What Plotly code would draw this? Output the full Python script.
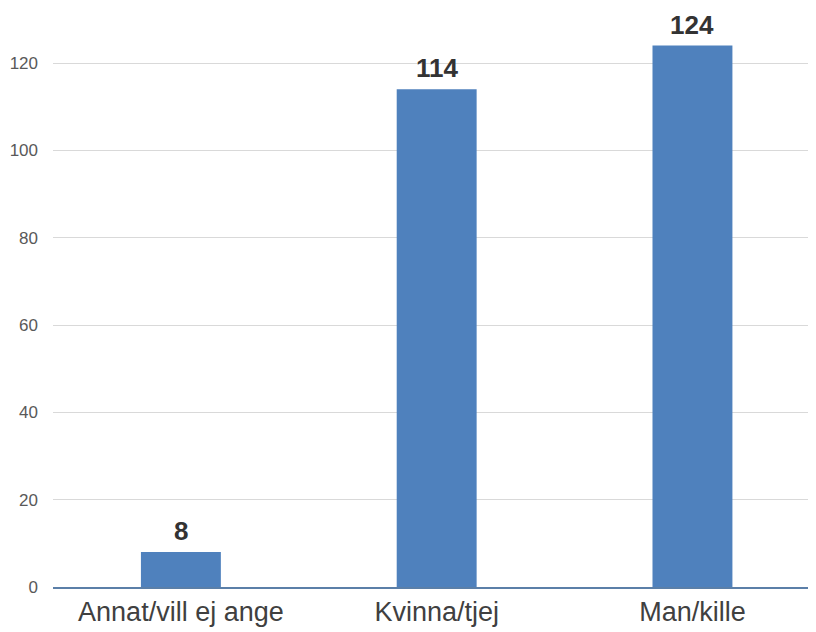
import plotly.graph_objects as go

categories = ["Annat/vill ej ange", "Kvinna/tjej", "Man/kille"]
values = [8, 114, 124]
y_ticks = [0, 20, 40, 60, 80, 100, 120]

bar_color = "#4F81BD"

fig = go.Figure()
fig.add_trace(go.Bar(
    x=categories, y=values,
    marker=dict(color=bar_color, line=dict(width=0)),
    width=0.3125,
    hoverinfo="skip",
))

for c, v in zip(categories, values):
    fig.add_annotation(
        x=c, y=v, text=f"<b>{v}</b>", showarrow=False,
        yanchor="bottom", yshift=4,
        font=dict(family="Liberation Sans, Arial, sans-serif", size=26, color="#333333"),
    )

fig.update_layout(
    width=808, height=624,
    margin=dict(l=45, r=0, t=0, b=45),
    paper_bgcolor="white", plot_bgcolor="white",
    showlegend=False,
    font=dict(family="Liberation Sans, Arial, sans-serif"),
)
fig.update_xaxes(
    range=[-0.5, 2.483],
    showgrid=False, zeroline=False,
    showline=True, linecolor="#5B7FA8", linewidth=1.5,
    tickfont=dict(size=27, color="#404040"),
    ticks="",
)
fig.update_yaxes(
    range=[0, 132.6],
    tickvals=y_ticks,
    showgrid=True, gridcolor="#D9D9D9", gridwidth=1,
    zeroline=False, showline=False,
    tickfont=dict(size=17, color="#595959"),
    ticks="", ticklabelstandoff=14,
)

fig.write_html("out.html")
